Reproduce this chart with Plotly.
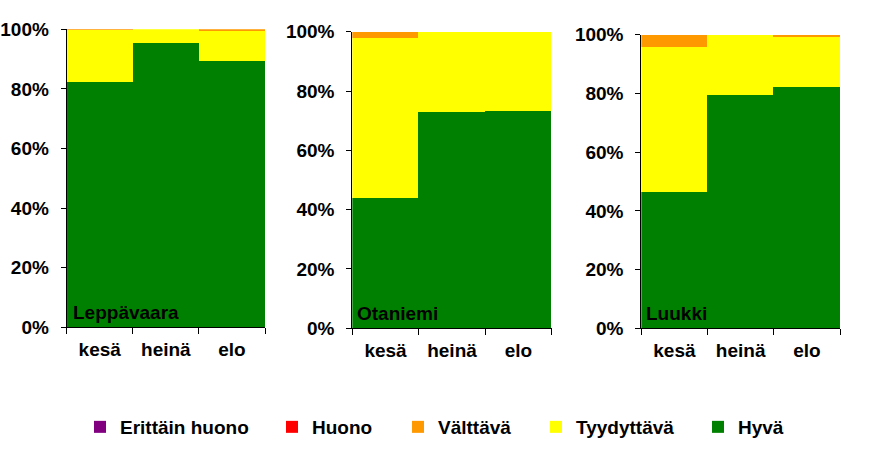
import plotly.graph_objects as go

categories = ["kesä", "heinä", "elo"]
sites = ["Leppävaara", "Otaniemi", "Luukki"]
series_names = ["Erittäin huono", "Huono", "Välttävä", "Tyydyttävä", "Hyvä"]
y_ticks = [0, 20, 40, 60, 80, 100]
y_tick_labels = ["0%", "20%", "40%", "60%", "80%", "100%"]

# percent shares per site (order of sites), per month (order of categories)
hyva = [[82.3, 95.4, 89.4], [44.2, 73.1, 73.5], [46.4, 79.5, 82.2]]
tyydyttava = [[17.4, 4.6, 10.0], [53.8, 26.9, 26.5], [49.5, 20.5, 17.4]]
valttava = [[0.3, 0.0, 0.6], [2.0, 0.0, 0.0], [4.1, 0.0, 0.4]]
huono = [[0.0, 0.0, 0.0], [0.0, 0.0, 0.0], [0.0, 0.0, 0.0]]
erittain_huono = [[0.0, 0.0, 0.0], [0.0, 0.0, 0.0], [0.0, 0.0, 0.0]]

colors = {"Erittäin huono": "#800080", "Huono": "#FF0000", "Välttävä": "#FF9900",
          "Tyydyttävä": "#FFFF00", "Hyvä": "#008000"}
stack = [("Hyvä", hyva), ("Tyydyttävä", tyydyttava), ("Välttävä", valttava),
         ("Huono", huono), ("Erittäin huono", erittain_huono)]
legend_ids = {"Erittäin huono": "legend", "Huono": "legend2", "Välttävä": "legend3",
              "Tyydyttävä": "legend4", "Hyvä": "legend5"}

W, H = 882, 468
# plot areas in pixels: (left, right, top, bottom)
areas = [(66.7, 265.0, 29.3, 327.3), (352.3, 551.7, 31.7, 328.3), (641.3, 840.0, 34.7, 328.3)]
label_offsets = [6.5, 4.5, 4.5]

FONT = dict(family="Liberation Sans, Arial, sans-serif", size=19, color="#000000", weight="bold")

fig = go.Figure()
for i, site in enumerate(sites):
    ax = "" if i == 0 else str(i + 1)
    for name, data in stack:
        fig.add_trace(go.Bar(
            x=categories, y=data[i], name=name,
            marker=dict(color=colors[name], line=dict(width=0)),
            xaxis="x" + ax, yaxis="y" + ax,
            showlegend=(i == 0), legend=legend_ids[name],
            hoverinfo="skip",
        ))
    l, r, t, b = areas[i]
    axis_common = dict(showgrid=False, zeroline=False, showline=True, linecolor="#000000",
                       linewidth=1, ticks="outside", tickcolor="#000000", tickfont=FONT,
                       automargin=False)
    fig.update_layout(**{
        "xaxis" + ax: dict(domain=[l / W, r / W], anchor="y" + ax, type="category",
                           range=[-0.5, 2.5], tickson="boundaries", ticklen=6,
                           ticklabelstandoff=5, fixedrange=True, **axis_common),
        "yaxis" + ax: dict(domain=[1 - b / H, 1 - t / H], anchor="x" + ax, range=[0, 100],
                           tickvals=y_ticks, ticktext=y_tick_labels, ticklen=5,
                           ticklabelstandoff=8, fixedrange=True, **axis_common),
    })
    fig.add_annotation(text=site, xref="x" + ax + " domain", yref="y" + ax + " domain",
                       x=0, y=0, xshift=label_offsets[i] - 2, yshift=15,
                       xanchor="left", yanchor="middle", showarrow=False, font=FONT)

legend_x = {"legend": 80, "legend2": 272, "legend3": 398, "legend4": 536, "legend5": 698}
legend_layout = {}
for lid, px in legend_x.items():
    legend_layout[lid] = dict(x=px / W, y=1 - 427 / H, xanchor="left", yanchor="middle",
                              orientation="h", font=FONT, bgcolor="rgba(0,0,0,0)",
                              borderwidth=0, itemwidth=30, itemclick=False,
                              itemdoubleclick=False)

fig.update_layout(
    barmode="stack", bargap=0, width=W, height=H,
    margin=dict(l=0, r=0, t=0, b=0, autoexpand=False),
    paper_bgcolor="#FFFFFF", plot_bgcolor="#FFFFFF",
    font=FONT, showlegend=True,
    **legend_layout,
)

fig.write_html("out.html", config={"displayModeBar": False},
               post_script="document.body.style.margin='0';document.body.style.overflow='hidden';")
